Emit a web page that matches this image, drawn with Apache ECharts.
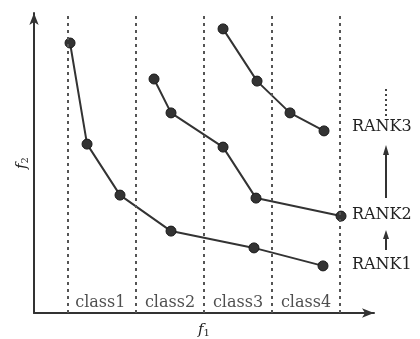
<!DOCTYPE html>
<html><head><meta charset="utf-8">
<script src="https://cdn.jsdelivr.net/npm/echarts@6/dist/echarts.min.js"></script>
<style>html,body{margin:0;padding:0;background:#fff}#c{width:420px;height:339px}</style>
</head><body><div id="c"></div>
<script>
// Data (f1, f2)
const rank1 = [[1.06,9.0],[1.56,5.63],[2.53,3.93],[4.03,2.73],[6.47,2.17],[8.5,1.57]];
const rank2 = [[3.53,7.8],[4.03,6.67],[5.56,5.53],[6.53,3.83],[9.03,3.23]];
const rank3 = [[5.56,9.47],[6.56,7.73],[7.53,6.67],[8.53,6.07]];
const classBounds = [1,3,5,7,9];
const classNames = ['class1','class2','class3','class4'];
const classLabelPos = [[1.95,0.35],[4.0,0.35],[6.0,0.35],[8.0,0.35]];
const rankNames = ['RANK1','RANK2','RANK3'];

const FONT = 'DejaVu Serif';
const chart = echarts.init(document.getElementById('c'));
const lineSeries = (d) => ({
  type:'line', data:d, symbol:'circle', symbolSize:10,
  itemStyle:{color:'#333', borderColor:'#1a1a1a', borderWidth:1},
  lineStyle:{color:'#333', width:2}, z:3, animation:false
});
const nameRich = {
  f:{fontFamily:FONT, fontStyle:'italic', fontSize:15, color:'#222', lineHeight:18},
  s:{fontFamily:FONT, fontSize:10, color:'#222', lineHeight:18, padding:[6,0,0,0]}
};
chart.setOption({
  animation:false,
  grid:{left:34, top:13, width:340, height:300, containLabel:false, outerBoundsMode:'none'},
  xAxis:{type:'value', min:0, max:10, axisTick:{show:false}, axisLabel:{show:false}, splitLine:{show:false},
    axisLine:{show:true, symbol:['none','arrow'], symbolSize:[7,12], lineStyle:{color:'#333', width:2}},
    name:'{f|f}{s|1}', nameLocation:'middle', nameGap:8,
    nameTextStyle:{verticalAlign:'top', rich:nameRich}},
  yAxis:{type:'value', min:0, max:10, axisTick:{show:false}, axisLabel:{show:false}, splitLine:{show:false},
    axisLine:{show:true, symbol:['none','arrow'], symbolSize:[7,12], lineStyle:{color:'#333', width:2}},
    name:'{f|f}{s|2}', nameLocation:'middle', nameGap:3, nameRotate:90,
    nameTextStyle:{rich:nameRich}},
  series:[
    Object.assign(lineSeries(rank1), {markLine:{silent:true, symbol:'none', label:{show:false},
      lineStyle:{color:'#555', type:[3,4], width:2},
      data: classBounds.map(v=>({xAxis:v}))}}),
    lineSeries(rank2),
    lineSeries(rank3),
    {type:'scatter', symbolSize:0, data: classLabelPos.map((p,i)=>({value:p, name:classNames[i]})),
      label:{show:true, formatter:p=>p.name, position:'inside', fontFamily:FONT, fontSize:16, color:'#222'}}
  ],
  graphic:[
    {type:'text', left:352, top:119, style:{text:rankNames[2], font:'16px "'+FONT+'"', fill:'#222'}},
    {type:'text', left:352, top:207, style:{text:rankNames[1], font:'16px "'+FONT+'"', fill:'#222'}},
    {type:'text', left:352, top:257, style:{text:rankNames[0], font:'16px "'+FONT+'"', fill:'#222'}},
    {type:'line', shape:{x1:386,y1:89,x2:386,y2:116}, style:{stroke:'#444', lineWidth:2, lineDash:[2,3]}},
    {type:'line', shape:{x1:386,y1:152,x2:386,y2:198}, style:{stroke:'#333', lineWidth:2}},
    {type:'polygon', shape:{points:[[386,145],[383,155],[389,155]]}, style:{fill:'#333'}},
    {type:'line', shape:{x1:386,y1:236,x2:386,y2:250}, style:{stroke:'#333', lineWidth:2}},
    {type:'polygon', shape:{points:[[386,230],[383,239],[389,239]]}, style:{fill:'#333'}}
  ]
});
</script></body></html>
